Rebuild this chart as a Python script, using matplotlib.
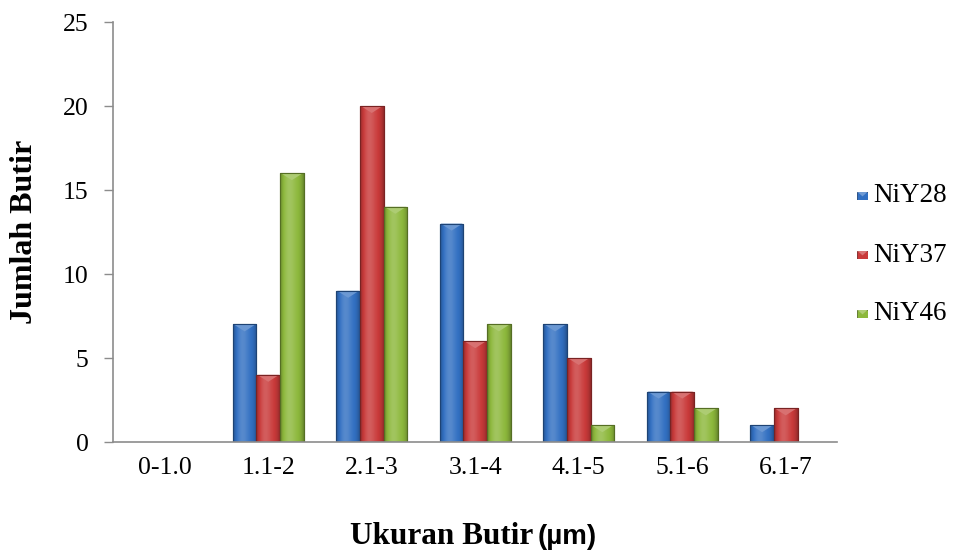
import numpy as np
import matplotlib
matplotlib.use("Agg")
import matplotlib.pyplot as plt
from matplotlib.patches import Polygon
from matplotlib.colors import to_rgb

categories = ["0-1.0", "1.1-2", "2.1-3", "3.1-4", "4.1-5", "5.1-6", "6.1-7"]
niy28 = [0, 7, 9, 13, 7, 3, 1]
niy37 = [0, 4, 20, 6, 5, 3, 2]
niy46 = [0, 16, 14, 7, 1, 2, 0]
series_names = ["NiY28", "NiY37", "NiY46"]
series_values = [niy28, niy37, niy46]
colors = ["#3270c2", "#c93a3a", "#8db83c"]

serif = "Liberation Serif"

fig = plt.figure(figsize=(9.56, 5.53), dpi=100)
ax = fig.add_axes([0.1182, 0.2007, 0.7578, 0.7595])

x = np.arange(len(categories))
width = 0.228
ymax = 25
ax.set_xlim(-0.5, len(categories) - 0.5)
ax.set_ylim(0, ymax)

# depth of the top bevel, in data units (axes is ~420 px tall)
bevel = 7 / (420 / ymax)


def shade(c, f):
    c = np.array(to_rgb(c))
    if f >= 0:
        return tuple(c + (1 - c) * f)
    return tuple(c * (1 + f))


def gradient_bar(ax, x0, w, h, color):
    if h <= 0:
        return
    bars = ax.bar(x0, h, width=w, align="edge", color=color,
                  edgecolor=shade(color, -0.35), linewidth=0.8, zorder=2)
    patch = bars[0]
    # horizontal shading across the bar
    t = np.linspace(0, 1, 64)
    prof = 0.18 * np.exp(-((t - 0.4) / 0.25) ** 2) - 0.28 * (np.abs(t - 0.5) * 2) ** 4
    img = np.array([shade(color, p) for p in prof])[None, :, :]
    im = ax.imshow(img, extent=(x0, x0 + w, 0, h), aspect="auto",
                   interpolation="bicubic", zorder=2.1)
    im.set_clip_path(patch)
    # top bevel triangle
    d = min(bevel, h)
    tri = Polygon([(x0 + w * 0.04, h), (x0 + w * 0.96, h), (x0 + w * 0.5, h - d)],
                  closed=True, facecolor=shade(color, 0.28), edgecolor="none",
                  zorder=2.2)
    ax.add_patch(tri)
    ax.bar(x0, h, width=w, align="edge", color="none",
           edgecolor=shade(color, -0.4), linewidth=0.8, zorder=2.3)


for i, (vals, col) in enumerate(zip(series_values, colors)):
    for xi, v in zip(x, vals):
        x0 = xi - 1.5 * width + i * width
        gradient_bar(ax, x0, width, v, col)

ax.set_xticks(x)
ax.set_xticklabels(categories, fontfamily=serif, fontsize=18.5)
ax.set_yticks(np.arange(0, 26, 5))
ax.set_yticklabels([str(v) for v in range(0, 26, 5)], fontfamily=serif, fontsize=18.5)
ax.tick_params(axis="x", length=0, pad=11)
ax.tick_params(axis="y", length=6.5, width=1, color="#8c8c8c", pad=11, direction="out")

for s in ["top", "right"]:
    ax.spines[s].set_visible(False)
for s in ["left", "bottom"]:
    ax.spines[s].set_color("#8c8c8c")
    ax.spines[s].set_linewidth(1.2)

fig.text(25 / 956, 1 - 232 / 553, "Jumlah Butir", fontfamily=serif, fontweight="bold",
         fontsize=23, rotation=90, ha="center", va="center")

fig.text(0.558, 1 - 537 / 553, "Ukuran Butir", fontfamily=serif, fontweight="bold",
         fontsize=22.5, ha="right", va="center")
fig.text(0.562, 1 - 537 / 553, "(µm)", fontfamily="Liberation Sans", fontweight="bold",
         fontsize=20, ha="left", va="center")

# legend
for i, (name, col) in enumerate(zip(series_names, colors)):
    ly = 1 - (196 + i * 59) / 553
    lx = 857 / 956
    sq = fig.add_axes([lx, ly - 4 / 553, 11 / 956, 8 / 553])
    sq.set_xlim(0, 1)
    sq.set_ylim(0, 1)
    sq.axis("off")
    sq.add_patch(plt.Rectangle((0, 0), 1, 1, facecolor=col,
                               edgecolor=shade(col, -0.4), linewidth=0.6))
    sq.add_patch(Polygon([(0.05, 1), (0.95, 1), (0.5, 0.45)], facecolor=shade(col, 0.3),
                         edgecolor="none"))
    fig.text(873 / 956, ly, name, fontfamily=serif, fontsize=19.5, va="center", ha="left")

fig.savefig("out.png", dpi=100, facecolor="white")
